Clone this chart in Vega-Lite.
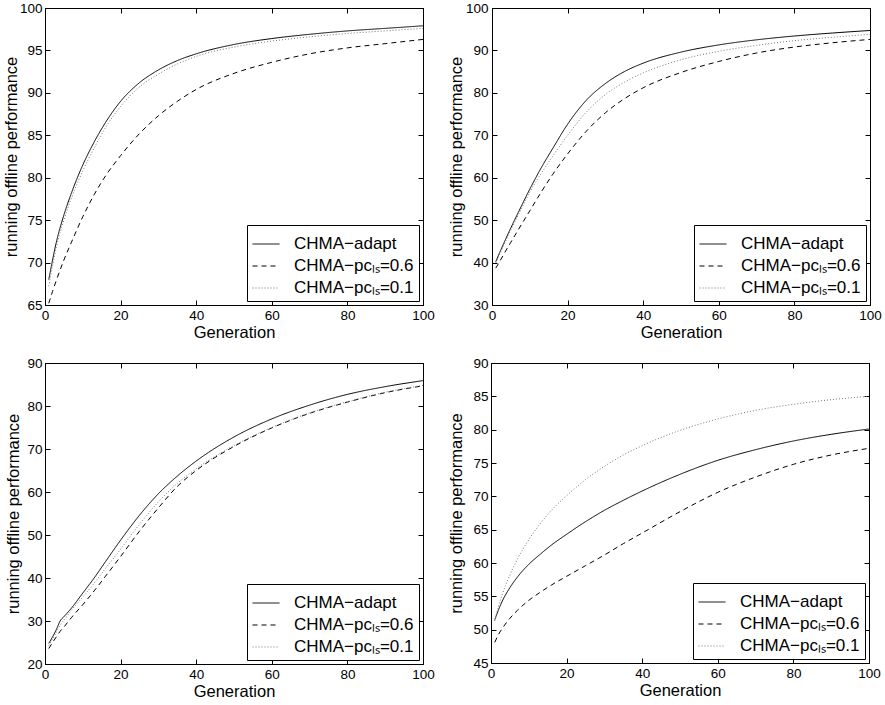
{
"$schema": "https://vega.github.io/schema/vega-lite/v6.json",
"background": "white",
"padding": {"left": 2, "top": 0, "right": 2, "bottom": 0},
"config": {
  "font": "Liberation Sans",
  "view": {"stroke": "black", "strokeWidth": 1},
  "axis": {"grid": false, "domainColor": "black", "tickColor": "black", "tickSize": -5, "labelPadding": 8, "labelColor": "black", "labelFontSize": 13.5, "titleFontSize": 16.5, "titleFontWeight": "normal", "titleColor": "black", "titlePadding": 3, "labelFlush": false},
  "legend": {"orient": "bottom-right", "offset": 4, "strokeColor": "black", "fillColor": "white", "padding": 5, "symbolType": "stroke", "symbolSize": 729, "symbolStrokeWidth": 1, "labelFontSize": 17, "labelOffset": 14, "rowPadding": -1, "labelColor": "black", "labelLimit": 300, "cornerRadius": 0}
},
"datasets": {
"d": [
{"panel":"A","gen":1,"adapt":68.0,"pc06":65.2,"pc01":67.2},
{"panel":"A","gen":2,"adapt":70.3,"pc06":66.6,"pc01":69.6},
{"panel":"A","gen":3,"adapt":72.4,"pc06":67.9,"pc01":71.8},
{"panel":"A","gen":5,"adapt":75.6,"pc06":70.3,"pc01":75.0},
{"panel":"A","gen":7,"adapt":78.2,"pc06":72.4,"pc01":77.6},
{"panel":"A","gen":10,"adapt":81.5,"pc06":75.4,"pc01":80.8},
{"panel":"A","gen":13,"adapt":84.2,"pc06":78.0,"pc01":83.5},
{"panel":"A","gen":16,"adapt":86.5,"pc06":80.2,"pc01":85.9},
{"panel":"A","gen":20,"adapt":89.0,"pc06":82.6,"pc01":88.4},
{"panel":"A","gen":25,"adapt":91.2,"pc06":85.2,"pc01":90.7},
{"panel":"A","gen":30,"adapt":92.7,"pc06":87.3,"pc01":92.2},
{"panel":"A","gen":35,"adapt":93.8,"pc06":89.0,"pc01":93.4},
{"panel":"A","gen":40,"adapt":94.6,"pc06":90.4,"pc01":94.3},
{"panel":"A","gen":50,"adapt":95.7,"pc06":92.3,"pc01":95.4},
{"panel":"A","gen":60,"adapt":96.4,"pc06":93.6,"pc01":96.1},
{"panel":"A","gen":70,"adapt":96.9,"pc06":94.6,"pc01":96.6},
{"panel":"A","gen":80,"adapt":97.3,"pc06":95.3,"pc01":97.0},
{"panel":"A","gen":90,"adapt":97.6,"pc06":95.8,"pc01":97.3},
{"panel":"A","gen":100,"adapt":97.9,"pc06":96.3,"pc01":97.6},
{"panel":"B","gen":1,"adapt":40.2,"pc06":38.7,"pc01":39.9},
{"panel":"B","gen":2,"adapt":42.3,"pc06":40.2,"pc01":41.9},
{"panel":"B","gen":3,"adapt":44.3,"pc06":41.8,"pc01":43.9},
{"panel":"B","gen":5,"adapt":48.2,"pc06":44.8,"pc01":47.7},
{"panel":"B","gen":7,"adapt":51.9,"pc06":47.8,"pc01":51.3},
{"panel":"B","gen":10,"adapt":57.3,"pc06":52.2,"pc01":56.6},
{"panel":"B","gen":13,"adapt":62.3,"pc06":56.6,"pc01":61.0},
{"panel":"B","gen":16,"adapt":66.8,"pc06":60.7,"pc01":65.0},
{"panel":"B","gen":20,"adapt":72.6,"pc06":65.6,"pc01":70.0},
{"panel":"B","gen":25,"adapt":78.3,"pc06":71.0,"pc01":75.5},
{"panel":"B","gen":30,"adapt":82.2,"pc06":75.3,"pc01":79.6},
{"panel":"B","gen":35,"adapt":85.0,"pc06":78.6,"pc01":82.5},
{"panel":"B","gen":40,"adapt":87.0,"pc06":81.2,"pc01":84.7},
{"panel":"B","gen":50,"adapt":89.6,"pc06":84.8,"pc01":87.8},
{"panel":"B","gen":60,"adapt":91.3,"pc06":87.4,"pc01":89.8},
{"panel":"B","gen":70,"adapt":92.5,"pc06":89.4,"pc01":91.2},
{"panel":"B","gen":80,"adapt":93.4,"pc06":90.8,"pc01":92.3},
{"panel":"B","gen":90,"adapt":94.1,"pc06":91.8,"pc01":93.1},
{"panel":"B","gen":100,"adapt":94.7,"pc06":92.6,"pc01":93.8},
{"panel":"C","gen":1,"adapt":24.8,"pc06":23.6,"pc01":24.3},
{"panel":"C","gen":2,"adapt":26.3,"pc06":25.0,"pc01":25.8},
{"panel":"C","gen":3,"adapt":28.0,"pc06":26.3,"pc01":27.4},
{"panel":"C","gen":4,"adapt":30.0,"pc06":27.6,"pc01":29.0},
{"panel":"C","gen":5,"adapt":31.0,"pc06":28.6,"pc01":30.2},
{"panel":"C","gen":7,"adapt":33.0,"pc06":30.8,"pc01":32.5},
{"panel":"C","gen":10,"adapt":36.5,"pc06":33.8,"pc01":35.6},
{"panel":"C","gen":13,"adapt":40.0,"pc06":37.0,"pc01":38.8},
{"panel":"C","gen":16,"adapt":43.8,"pc06":40.4,"pc01":42.2},
{"panel":"C","gen":20,"adapt":48.8,"pc06":45.0,"pc01":46.7},
{"panel":"C","gen":25,"adapt":54.6,"pc06":50.9,"pc01":52.5},
{"panel":"C","gen":30,"adapt":59.6,"pc06":56.3,"pc01":57.7},
{"panel":"C","gen":35,"adapt":63.7,"pc06":61.3,"pc01":62.0},
{"panel":"C","gen":40,"adapt":67.2,"pc06":65.0,"pc01":65.4},
{"panel":"C","gen":50,"adapt":72.8,"pc06":70.6,"pc01":70.8},
{"panel":"C","gen":60,"adapt":77.0,"pc06":74.9,"pc01":75.0},
{"panel":"C","gen":70,"adapt":80.2,"pc06":78.3,"pc01":78.4},
{"panel":"C","gen":80,"adapt":82.7,"pc06":80.9,"pc01":81.0},
{"panel":"C","gen":90,"adapt":84.5,"pc06":83.1,"pc01":83.2},
{"panel":"C","gen":100,"adapt":85.9,"pc06":84.7,"pc01":84.8},
{"panel":"D","gen":1,"adapt":51.5,"pc06":48.1,"pc01":51.3},
{"panel":"D","gen":2,"adapt":53.0,"pc06":49.3,"pc01":53.5},
{"panel":"D","gen":3,"adapt":54.3,"pc06":50.2,"pc01":55.3},
{"panel":"D","gen":5,"adapt":56.3,"pc06":51.7,"pc01":58.2},
{"panel":"D","gen":7,"adapt":57.9,"pc06":52.9,"pc01":60.6},
{"panel":"D","gen":10,"adapt":59.8,"pc06":54.4,"pc01":63.5},
{"panel":"D","gen":13,"adapt":61.3,"pc06":55.6,"pc01":65.9},
{"panel":"D","gen":16,"adapt":62.7,"pc06":56.7,"pc01":67.9},
{"panel":"D","gen":20,"adapt":64.3,"pc06":58.0,"pc01":70.1},
{"panel":"D","gen":25,"adapt":66.2,"pc06":59.6,"pc01":72.5},
{"panel":"D","gen":30,"adapt":67.9,"pc06":61.2,"pc01":74.5},
{"panel":"D","gen":35,"adapt":69.4,"pc06":62.9,"pc01":76.2},
{"panel":"D","gen":40,"adapt":70.8,"pc06":64.5,"pc01":77.6},
{"panel":"D","gen":50,"adapt":73.3,"pc06":67.7,"pc01":79.9},
{"panel":"D","gen":60,"adapt":75.4,"pc06":70.6,"pc01":81.6},
{"panel":"D","gen":70,"adapt":77.0,"pc06":72.9,"pc01":82.9},
{"panel":"D","gen":80,"adapt":78.3,"pc06":74.8,"pc01":83.8},
{"panel":"D","gen":90,"adapt":79.3,"pc06":76.2,"pc01":84.5},
{"panel":"D","gen":100,"adapt":80.1,"pc06":77.2,"pc01":85.0}
]
},
"columns": 2,
"align": "none",
"spacing": {"row": 13, "column": 12},
"concat": [
{
"width": 378, "height": 297,
"data": {"name": "d"},
"transform": [{"filter": "datum.panel == 'A'"}, {"fold": ["adapt", "pc06", "pc01"], "as": ["series", "value"]}],
"layer": [
{"mark": {"type": "line", "interpolate": "monotone", "strokeWidth": 1},
 "encoding": {
  "x": {"field": "gen", "type": "quantitative", "scale": {"domain": [0, 100], "nice": false, "zero": false}, "axis": {"values": [0, 20, 40, 60, 80, 100], "title": "Generation"}},
  "y": {"field": "value", "type": "quantitative", "scale": {"domain": [65, 100], "nice": false, "zero": false}, "axis": {"values": [65, 70, 75, 80, 85, 90, 95, 100], "title": "running offline performance", "minExtent": 23, "maxExtent": 23}},
  "color": {"field": "series", "type": "nominal", "scale": {"domain": ["adapt", "pc06", "pc01"], "range": ["black", "black", "#777777"]}, "legend": {"title": null, "labelExpr": "datum.value == 'adapt' ? 'CHMA−adapt' : datum.value == 'pc06' ? 'CHMA−pcₗₛ=0.6' : 'CHMA−pcₗₛ=0.1'"}},
  "strokeDash": {"field": "series", "type": "nominal", "scale": {"domain": ["adapt", "pc06", "pc01"], "range": [[1, 0], [5, 4], [1, 2]]}, "legend": {"title": null, "labelExpr": "datum.value == 'adapt' ? 'CHMA−adapt' : datum.value == 'pc06' ? 'CHMA−pcₗₛ=0.6' : 'CHMA−pcₗₛ=0.1'"}}
 }},
{"mark": {"type": "line", "opacity": 0},
 "encoding": {
  "x": {"field": "gen", "type": "quantitative", "scale": {"domain": [0, 100], "nice": false, "zero": false}, "axis": {"orient": "top", "labels": false, "title": null, "values": [0, 20, 40, 60, 80, 100], "minExtent": 0, "maxExtent": 0}},
  "y": {"field": "value", "type": "quantitative", "scale": {"domain": [65, 100], "nice": false, "zero": false}, "axis": {"orient": "right", "labels": false, "title": null, "values": [65, 70, 75, 80, 85, 90, 95, 100], "minExtent": 0, "maxExtent": 0}}
 }}
],
"resolve": {"axis": {"x": "independent", "y": "independent"}}
},
{
"width": 378, "height": 297,
"data": {"name": "d"},
"transform": [{"filter": "datum.panel == 'B'"}, {"fold": ["adapt", "pc06", "pc01"], "as": ["series", "value"]}],
"layer": [
{"mark": {"type": "line", "interpolate": "monotone", "strokeWidth": 1},
 "encoding": {
  "x": {"field": "gen", "type": "quantitative", "scale": {"domain": [0, 100], "nice": false, "zero": false}, "axis": {"values": [0, 20, 40, 60, 80, 100], "title": "Generation"}},
  "y": {"field": "value", "type": "quantitative", "scale": {"domain": [30, 100], "nice": false, "zero": false}, "axis": {"values": [30, 40, 50, 60, 70, 80, 90, 100], "title": "running offline performance", "minExtent": 25, "maxExtent": 25, "labelPadding": 9}},
  "color": {"field": "series", "type": "nominal", "scale": {"domain": ["adapt", "pc06", "pc01"], "range": ["black", "black", "#777777"]}, "legend": {"title": null, "labelExpr": "datum.value == 'adapt' ? 'CHMA−adapt' : datum.value == 'pc06' ? 'CHMA−pcₗₛ=0.6' : 'CHMA−pcₗₛ=0.1'"}},
  "strokeDash": {"field": "series", "type": "nominal", "scale": {"domain": ["adapt", "pc06", "pc01"], "range": [[1, 0], [5, 4], [1, 2]]}, "legend": {"title": null, "labelExpr": "datum.value == 'adapt' ? 'CHMA−adapt' : datum.value == 'pc06' ? 'CHMA−pcₗₛ=0.6' : 'CHMA−pcₗₛ=0.1'"}}
 }},
{"mark": {"type": "line", "opacity": 0},
 "encoding": {
  "x": {"field": "gen", "type": "quantitative", "scale": {"domain": [0, 100], "nice": false, "zero": false}, "axis": {"orient": "top", "labels": false, "title": null, "values": [0, 20, 40, 60, 80, 100], "minExtent": 0, "maxExtent": 0}},
  "y": {"field": "value", "type": "quantitative", "scale": {"domain": [30, 100], "nice": false, "zero": false}, "axis": {"orient": "right", "labels": false, "title": null, "values": [30, 40, 50, 60, 70, 80, 90, 100], "minExtent": 0, "maxExtent": 0}}
 }}
],
"resolve": {"axis": {"x": "independent", "y": "independent"}}
},
{
"width": 378, "height": 301,
"data": {"name": "d"},
"transform": [{"filter": "datum.panel == 'C'"}, {"fold": ["adapt", "pc06", "pc01"], "as": ["series", "value"]}],
"layer": [
{"mark": {"type": "line", "interpolate": "monotone", "strokeWidth": 1},
 "encoding": {
  "x": {"field": "gen", "type": "quantitative", "scale": {"domain": [0, 100], "nice": false, "zero": false}, "axis": {"values": [0, 20, 40, 60, 80, 100], "title": "Generation"}},
  "y": {"field": "value", "type": "quantitative", "scale": {"domain": [20, 90], "nice": false, "zero": false}, "axis": {"values": [20, 30, 40, 50, 60, 70, 80, 90], "title": "running offline performance", "minExtent": 21, "maxExtent": 21}},
  "color": {"field": "series", "type": "nominal", "scale": {"domain": ["adapt", "pc06", "pc01"], "range": ["black", "black", "#777777"]}, "legend": {"title": null, "labelExpr": "datum.value == 'adapt' ? 'CHMA−adapt' : datum.value == 'pc06' ? 'CHMA−pcₗₛ=0.6' : 'CHMA−pcₗₛ=0.1'"}},
  "strokeDash": {"field": "series", "type": "nominal", "scale": {"domain": ["adapt", "pc06", "pc01"], "range": [[1, 0], [5, 4], [1, 2]]}, "legend": {"title": null, "labelExpr": "datum.value == 'adapt' ? 'CHMA−adapt' : datum.value == 'pc06' ? 'CHMA−pcₗₛ=0.6' : 'CHMA−pcₗₛ=0.1'"}}
 }},
{"mark": {"type": "line", "opacity": 0},
 "encoding": {
  "x": {"field": "gen", "type": "quantitative", "scale": {"domain": [0, 100], "nice": false, "zero": false}, "axis": {"orient": "top", "labels": false, "title": null, "values": [0, 20, 40, 60, 80, 100], "minExtent": 0, "maxExtent": 0}},
  "y": {"field": "value", "type": "quantitative", "scale": {"domain": [20, 90], "nice": false, "zero": false}, "axis": {"orient": "right", "labels": false, "title": null, "values": [20, 30, 40, 50, 60, 70, 80, 90], "minExtent": 0, "maxExtent": 0}}
 }}
],
"resolve": {"axis": {"x": "independent", "y": "independent"}}
},
{
"width": 378, "height": 300,
"data": {"name": "d"},
"transform": [{"filter": "datum.panel == 'D'"}, {"fold": ["adapt", "pc06", "pc01"], "as": ["series", "value"]}],
"layer": [
{"mark": {"type": "line", "interpolate": "monotone", "strokeWidth": 1},
 "encoding": {
  "x": {"field": "gen", "type": "quantitative", "scale": {"domain": [0, 100], "nice": false, "zero": false}, "axis": {"values": [0, 20, 40, 60, 80, 100], "title": "Generation"}},
  "y": {"field": "value", "type": "quantitative", "scale": {"domain": [45, 90], "nice": false, "zero": false}, "axis": {"values": [45, 50, 55, 60, 65, 70, 75, 80, 85, 90], "title": "running offline performance", "minExtent": 24, "maxExtent": 24}},
  "color": {"field": "series", "type": "nominal", "scale": {"domain": ["adapt", "pc06", "pc01"], "range": ["black", "black", "#777777"]}, "legend": {"title": null, "labelExpr": "datum.value == 'adapt' ? 'CHMA−adapt' : datum.value == 'pc06' ? 'CHMA−pcₗₛ=0.6' : 'CHMA−pcₗₛ=0.1'"}},
  "strokeDash": {"field": "series", "type": "nominal", "scale": {"domain": ["adapt", "pc06", "pc01"], "range": [[1, 0], [5, 4], [1, 2]]}, "legend": {"title": null, "labelExpr": "datum.value == 'adapt' ? 'CHMA−adapt' : datum.value == 'pc06' ? 'CHMA−pcₗₛ=0.6' : 'CHMA−pcₗₛ=0.1'"}}
 }},
{"mark": {"type": "line", "opacity": 0},
 "encoding": {
  "x": {"field": "gen", "type": "quantitative", "scale": {"domain": [0, 100], "nice": false, "zero": false}, "axis": {"orient": "top", "labels": false, "title": null, "values": [0, 20, 40, 60, 80, 100], "minExtent": 0, "maxExtent": 0}},
  "y": {"field": "value", "type": "quantitative", "scale": {"domain": [45, 90], "nice": false, "zero": false}, "axis": {"orient": "right", "labels": false, "title": null, "values": [45, 50, 55, 60, 65, 70, 75, 80, 85, 90], "minExtent": 0, "maxExtent": 0}}
 }}
],
"resolve": {"axis": {"x": "independent", "y": "independent"}}
}
],
"resolve": {"scale": {"color": "independent", "strokeDash": "independent"}, "legend": {"color": "independent", "strokeDash": "independent"}}
}
